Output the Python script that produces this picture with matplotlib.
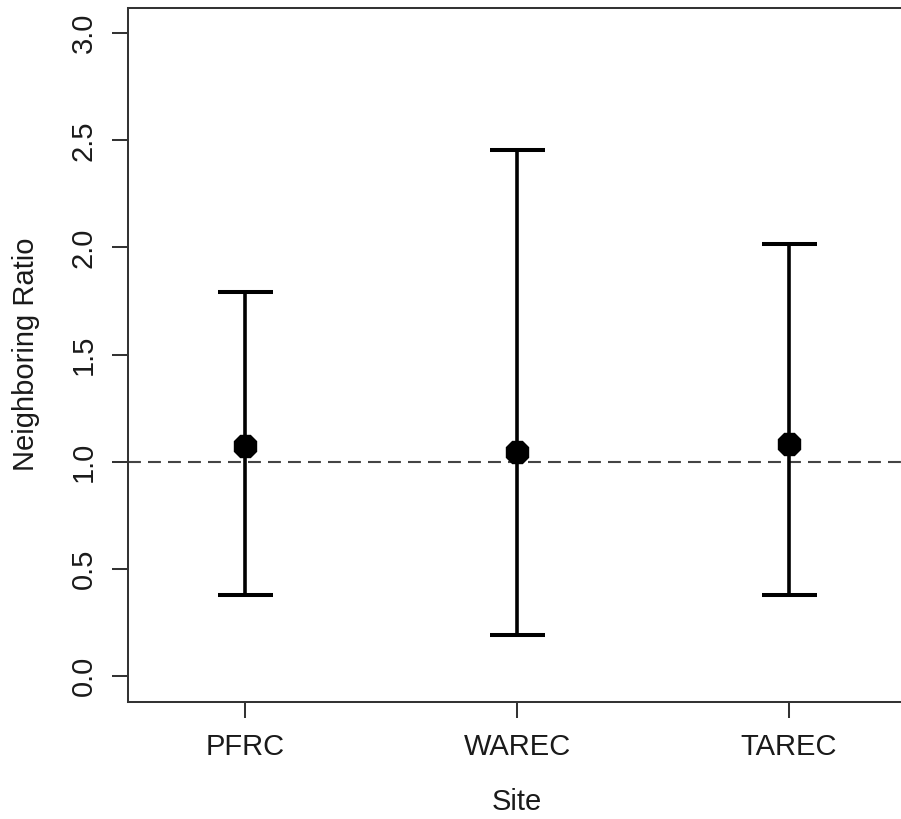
import numpy as np
import matplotlib
matplotlib.use("Agg")
import matplotlib.pyplot as plt

plt.rcParams['font.family'] = ['Liberation Sans', 'DejaVu Sans']

# Data
sites = ["PFRC", "WAREC", "TAREC"]
ratio = [1.075, 1.044, 1.083]
lower = [0.377, 0.191, 0.377]
upper = [1.792, 2.453, 2.014]
yticks = [0.0, 0.5, 1.0, 1.5, 2.0, 2.5, 3.0]

x = np.arange(1, len(sites) + 1)
err = [np.array(ratio) - np.array(lower), np.array(upper) - np.array(ratio)]

fig = plt.figure(figsize=(9.01, 8.19), dpi=100)
ax = fig.add_axes([128 / 901, 1 - 701.7 / 819, (906.2 - 128) / 901, (701.7 - 7.5) / 819])

# reference line at ratio = 1
ax.axhline(1.0, color='#444444', lw=1.5, linestyle=(0, (6.2, 3.4)), zorder=1)

ax.errorbar(x, ratio, yerr=err, fmt='8', color='black', ms=17.5,
            elinewidth=2.6, capsize=19.8, capthick=2.9, zorder=3)

ax.set_xlim(0.569, 3.431)
ax.set_ylim(-0.12, 3.12)

ax.set_xticks(x)
ax.set_xticklabels(sites)
ax.set_yticks(yticks)
ax.set_yticklabels([f"{v:.1f}" for v in yticks], rotation=90, va='center')

for s in ax.spines.values():
    s.set_linewidth(1.45)
    s.set_color('#333333')

ax.tick_params(axis='both', length=11.5, width=1.45, color='#333333',
               labelsize=21, labelcolor='#1a1a1a')
ax.tick_params(axis='x', pad=11)
ax.tick_params(axis='y', pad=10.5)

ax.set_xlabel("Site", fontsize=21, color='#1a1a1a', labelpad=19.5)
ax.set_ylabel("Neighboring Ratio", fontsize=21, color='#1a1a1a', labelpad=21)

fig.savefig("out.png", dpi=100)
